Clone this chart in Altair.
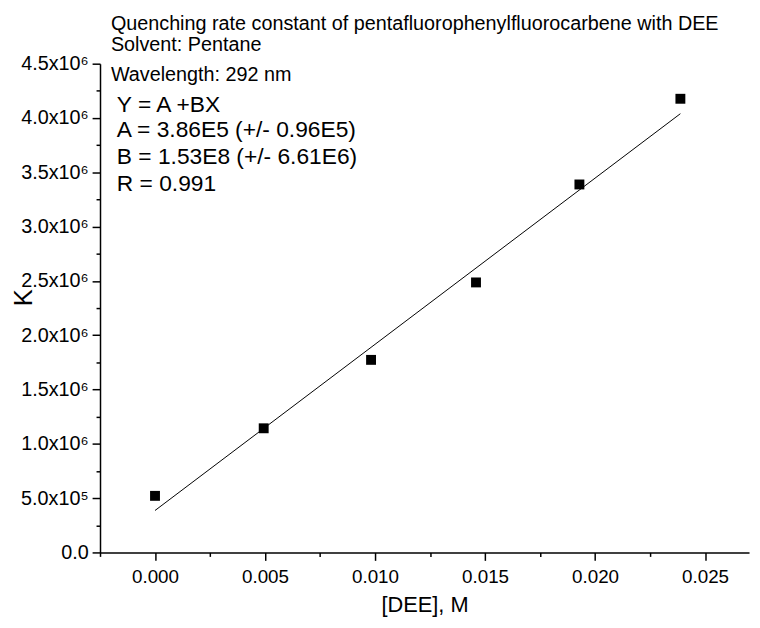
import altair as alt
import pandas as pd

# ---- data ----
conc = [0.0, 0.00494, 0.00982, 0.01459, 0.01929, 0.02388]
k_obs = [5.21e5, 1.143e6, 1.773e6, 2.486e6, 3.388e6, 4.177e6]

fit_A = 3.86e5
fit_B = 1.53e8
fit_x = [0.0, 0.02388]
fit_y = [fit_A + fit_B * v for v in fit_x]

x_major = [0.0, 0.005, 0.010, 0.015, 0.020, 0.025]
x_minor = [-0.0025, 0.0025, 0.0075, 0.0125, 0.0175, 0.0225]
y_major = [0, 500000, 1000000, 1500000, 2000000, 2500000, 3000000, 3500000, 4000000, 4500000]
y_labels = ["0.0", "5.0x10⁵", "1.0x10⁶", "1.5x10⁶", "2.0x10⁶", "2.5x10⁶",
            "3.0x10⁶", "3.5x10⁶", "4.0x10⁶", "4.5x10⁶"]
y_minor = [250000, 750000, 1250000, 1750000, 2250000, 2750000, 3250000, 3750000, 4250000]

title_lines = ["Quenching rate constant of pentafluorophenylfluorocarbene with DEE",
               "Solvent: Pentane",
               "Wavelength: 292 nm"]
fit_lines = ["Y = A +BX",
             "A = 3.86E5 (+/- 0.96E5)",
             "B = 1.53E8 (+/- 6.61E6)",
             "R = 0.991"]

FONT = "Liberation Sans"
X_DOMAIN = [-0.0025, 0.0270]
Y_DOMAIN = [0, 4500000]

pts = pd.DataFrame({"x": conc, "y": k_obs})
fit = pd.DataFrame({"x": fit_x, "y": fit_y})

xscale = alt.Scale(domain=X_DOMAIN, nice=False, zero=False)
yscale = alt.Scale(domain=Y_DOMAIN, nice=False, zero=False)

label_expr = ("[" + ",".join("'%s'" % s for s in y_labels) + "][indexof(["
              + ",".join(str(v) for v in y_major) + "], datum.value)]")

points = alt.Chart(pts).mark_square(size=100, color="black", opacity=1).encode(
    x=alt.X("x:Q", scale=xscale,
            axis=alt.Axis(orient="bottom", values=x_major, format=".3f", tickSize=8,
                          labelFontSize=19, labelPadding=7, labelFlush=False,
                          labelOverlap=False, title="[DEE], M", titleFontSize=22,
                          titleFontWeight="normal", titleY=60, titleBaseline="alphabetic")),
    y=alt.Y("y:Q", scale=yscale,
            axis=alt.Axis(orient="left", values=y_major, labelExpr=label_expr, tickSize=8,
                          labelFontSize=20, labelPadding=4, labelFlush=False,
                          labelOverlap=False, title="K", titleFontSize=26,
                          titleFontWeight="normal", titleAngle=270, titleX=-69, titleY=236,
                          titleBaseline="alphabetic", titleAlign="center")),
)

line = alt.Chart(fit).mark_line(color="black", strokeWidth=1).encode(
    x=alt.X("x:Q", scale=xscale,
            axis=alt.Axis(orient="bottom", values=x_minor, tickSize=4, labels=False,
                          domain=False, title="")),
    y=alt.Y("y:Q", scale=yscale,
            axis=alt.Axis(orient="left", values=y_minor, tickSize=4, labels=False,
                          domain=False, title="")),
)

texts = []
title_y = [-34, -13, 17]
for t, yy in zip(title_lines, title_y):
    texts.append(alt.Chart(pd.DataFrame({"t": [t]})).mark_text(
        align="left", baseline="alphabetic", font=FONT, fontSize=20, color="black"
    ).encode(text="t:N", x=alt.value(11), y=alt.value(yy)))

fit_y_pos = [49, 74, 101, 129]
for t, yy in zip(fit_lines, fit_y_pos):
    texts.append(alt.Chart(pd.DataFrame({"t": [t]})).mark_text(
        align="left", baseline="alphabetic", font=FONT, fontSize=23, color="black"
    ).encode(text="t:N", x=alt.value(17), y=alt.value(yy)))

chart = alt.layer(points, line, *texts).resolve_axis(
    x="independent", y="independent"
).properties(
    width=656, height=494, autosize="none",
    padding={"left": 93, "top": 53, "right": 3, "bottom": 65},
    background="white",
).configure_axis(
    grid=False, domainColor="black", domainWidth=1.5, tickColor="black", tickWidth=1.5,
    labelColor="black", labelFont=FONT, titleFont=FONT, titleColor="black",
).configure_view(stroke="transparent")

chart.save("out.html", embed_options={"renderer": "svg", "actions": False})
